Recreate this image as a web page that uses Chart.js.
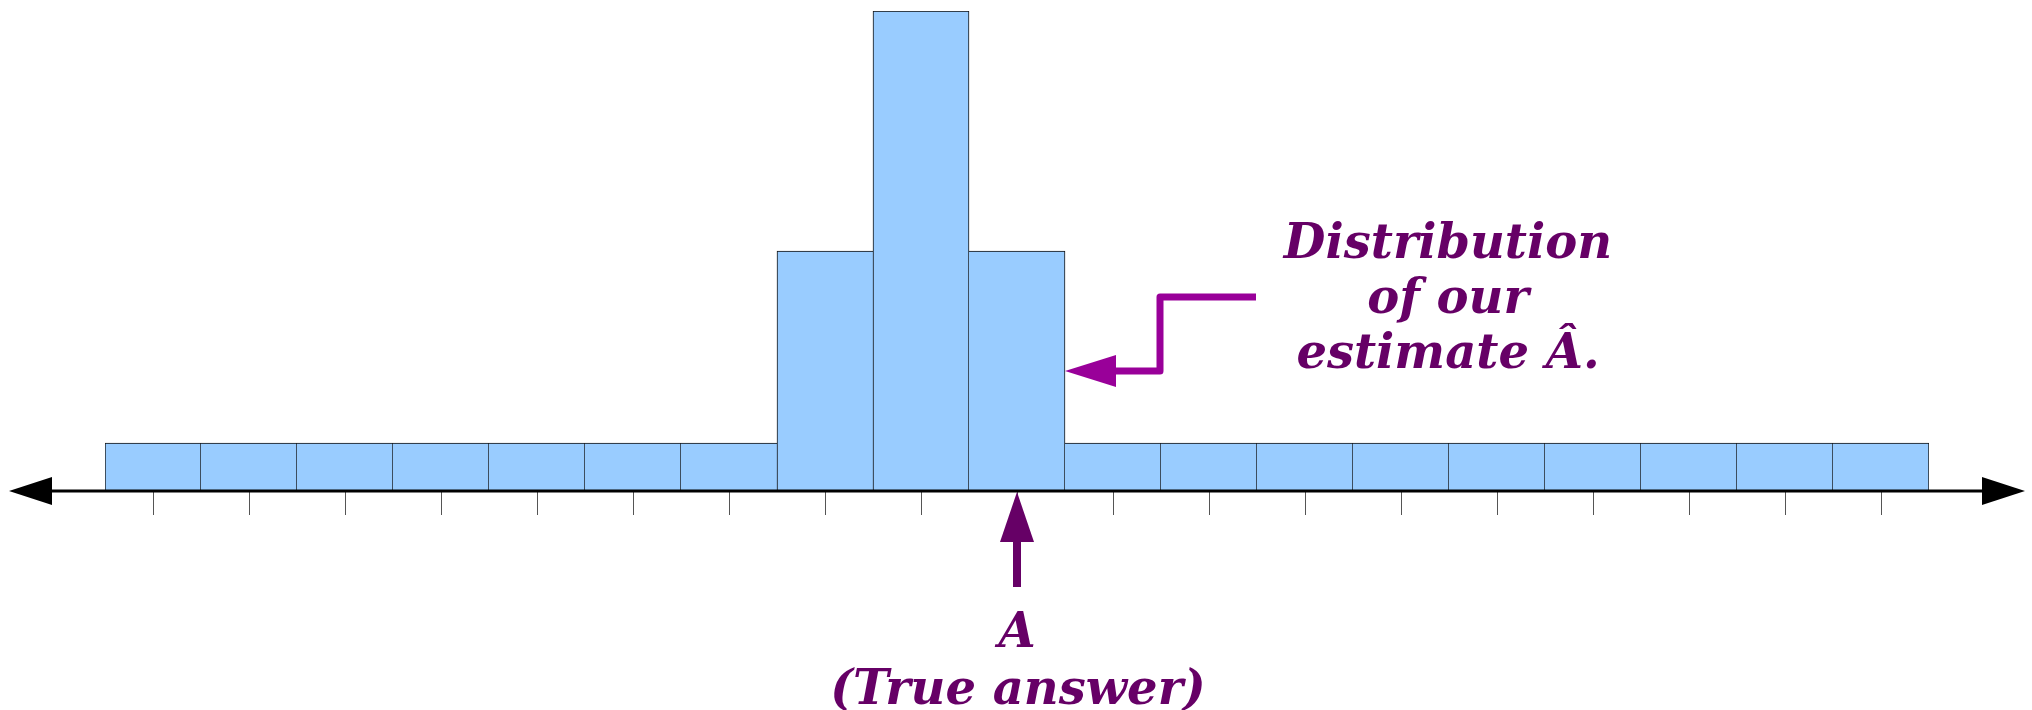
<!DOCTYPE html>
<html>
<head>
<meta charset="utf-8">
<script src="https://cdn.jsdelivr.net/npm/chart.js@4"></script>
<style>
  html, body { margin: 0; padding: 0; background: #fff; }
  #wrap { width: 2032px; height: 710px; }
</style>
</head>
<body>
<div id="wrap"><canvas id="histCanvas" width="2032" height="710"></canvas></div>
<script>
// ========== Data
const binLabels = ['-9', '-8', '-7', '-6', '-5', '-4', '-3', '-2', '-1', '0',
                   '1', '2', '3', '4', '5', '6', '7', '8', '9'];
const binCounts = [1, 1, 1, 1, 1, 1, 1, 5, 10, 5, 1, 1, 1, 1, 1, 1, 1, 1, 1];
const trueAnswerBin = 9;      // bin where the true answer A sits
const pointerLevel = 2.5;     // height the "distribution" pointer touches
const noteLines = ['Distribution', 'of our', 'estimate Â.'];
const answerLines = ['A', '(True answer)'];

// ========== Colors
let barColor = '#99CCFF';
let edgeColor = '#111111';
let textColor = '#660066';
let pointerColor = '#990099';
let font = 'italic bold 48px "DejaVu Serif"';

// one shared line between neighbours: the taller bar owns the edge
function edges(ctx) {
    const i = ctx.dataIndex, n = binCounts.length;
    return {
        top: 1,
        bottom: 0,
        left: (i === 0 || binCounts[i] > binCounts[i - 1]) ? 1 : 0,
        right: (i === n - 1 || binCounts[i] >= binCounts[i + 1]) ? 1 : 0
    };
}

function arrowHead(ctx, tipX, tipY, baseX, baseY, half) {
    // triangle pointing from base to tip
    const dx = tipX - baseX, dy = tipY - baseY;
    const len = Math.hypot(dx, dy);
    const nx = -dy / len, ny = dx / len;
    ctx.beginPath();
    ctx.moveTo(tipX, tipY);
    ctx.lineTo(baseX + nx * half, baseY + ny * half);
    ctx.lineTo(baseX - nx * half, baseY - ny * half);
    ctx.closePath();
    ctx.fill();
}

// axis with arrows + annotations
const overlay = {
    id: 'overlay',
    afterDraw(chart) {
        const ctx = chart.ctx;
        const xs = chart.scales.x, ys = chart.scales.y;
        const axisY = ys.getPixelForValue(0);
        const W = chart.width;

        ctx.save();
        // number line
        ctx.strokeStyle = '#000';
        ctx.fillStyle = '#000';
        ctx.lineWidth = 3;
        ctx.beginPath();
        ctx.moveTo(50, axisY);
        ctx.lineTo(W - 50, axisY);
        ctx.stroke();
        arrowHead(ctx, 9, axisY, 52, axisY, 14);
        arrowHead(ctx, W - 7, axisY, W - 50, axisY, 14);

        // A (true answer) arrow
        const ax = xs.getPixelForValue(trueAnswerBin);
        ctx.fillStyle = textColor;
        arrowHead(ctx, ax, axisY + 1, ax, axisY + 51, 17);
        ctx.fillRect(ax - 4, axisY + 50, 8, 46);

        ctx.font = font;
        ctx.textAlign = 'center';
        ctx.textBaseline = 'alphabetic';
        ctx.fillText(answerLines[0], ax, axisY + 156);
        ctx.fillText(answerLines[1], ax + 1, axisY + 213);

        // pointer to the distribution
        const bar = chart.getDatasetMeta(0).data[trueAnswerBin];
        const tipX = bar.x + bar.width / 2;
        const tipY = ys.getPixelForValue(pointerLevel);
        ctx.strokeStyle = pointerColor;
        ctx.fillStyle = pointerColor;
        ctx.lineWidth = 7;
        ctx.lineJoin = 'round';
        ctx.beginPath();
        ctx.moveTo(tipX + 191, tipY - 74);
        ctx.lineTo(tipX + 95, tipY - 74);
        ctx.lineTo(tipX + 95, tipY);
        ctx.lineTo(tipX + 48, tipY);
        ctx.stroke();
        arrowHead(ctx, tipX, tipY, tipX + 51, tipY, 16);

        ctx.fillStyle = textColor;
        const cx = tipX + 383;
        noteLines.forEach((t, k) => ctx.fillText(t, cx, tipY - 113 + k * 55));
        ctx.restore();
    }
};

let histData = {
    labels: binLabels,
    datasets: [{
        data: binCounts,
        backgroundColor: barColor,
        borderColor: edgeColor,
        borderWidth: edges,
        borderSkipped: false,
        categoryPercentage: 1,
        barPercentage: 1
    }]
};

var histCanvas = document.getElementById('histCanvas');
var histChart = new Chart(histCanvas, {
    type: 'bar',
    data: histData,
    options: {
        responsive: false,
        animation: false,
        devicePixelRatio: 1,
        layout: { padding: { left: 105, right: 103, top: 11, bottom: 195 } },
        plugins: { legend: { display: false }, tooltip: { enabled: false } },
        scales: {
            x: {
                offset: true,
                grid: {
                    offset: false,
                    drawOnChartArea: false,
                    drawTicks: true,
                    tickLength: 24,
                    color: '#555',
                    lineWidth: 1
                },
                border: { display: false },
                ticks: { display: false }
            },
            y: {
                display: false,
                min: 0,
                max: 10
            }
        }
    },
    plugins: [overlay]
});
</script>
</body>
</html>
